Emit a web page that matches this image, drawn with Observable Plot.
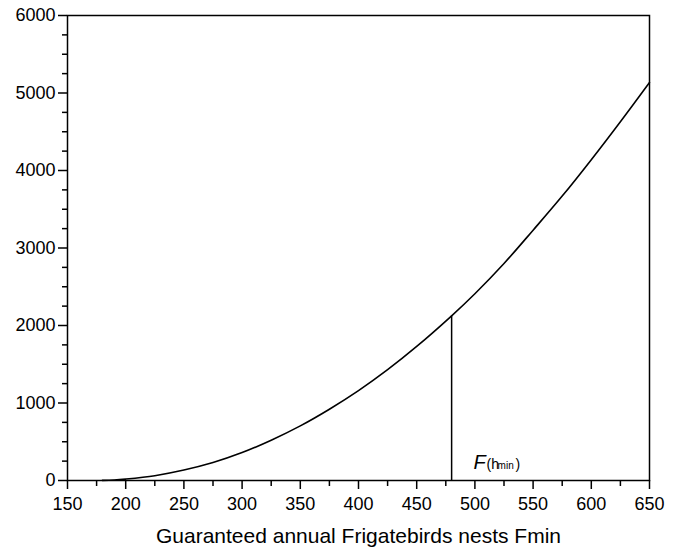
<!DOCTYPE html>
<html>
<head>
<meta charset="utf-8">
<script src="https://cdn.jsdelivr.net/npm/d3@7"></script>
<script src="https://cdn.jsdelivr.net/npm/@observablehq/plot@0.6"></script>
<style>
  html, body { margin: 0; padding: 0; background: #fff; }
</style>
</head>
<body>
<div id="chart"></div>
<script>
// Curve readings: guaranteed annual nests (x) vs. value (y)
const nests = [180, 190, 200, 225, 250, 275, 300, 325, 350, 375, 400, 425, 450, 480, 500, 525, 550, 575, 600, 625, 650];
const values = [1, 6, 18, 62, 135, 232, 360, 520, 705, 920, 1160, 1430, 1730, 2125, 2410, 2800, 3230, 3670, 4140, 4630, 5135];

// Marker F(hmin)
const hminX = 480;
const hminY = 2125;

// Axis ticks
const xMajor = [150, 200, 250, 300, 350, 400, 450, 500, 550, 600, 650];
const xMinor = [175, 225, 275, 325, 375, 425, 475, 525, 575, 625];
const yMajor = [0, 1000, 2000, 3000, 4000, 5000, 6000];
const yMinor = [250, 500, 750, 1250, 1500, 1750, 2250, 2500, 2750, 3250, 3500, 3750, 4250, 4500, 4750, 5250, 5500, 5750];

const xTitle = "Guaranteed annual Frigatebirds nests Fmin";

const points = nests.map((x, i) => ({x, y: values[i]}));
const font = "'Liberation Sans', Arial, Helvetica, sans-serif";

const chart = Plot.plot({
  width: 680,
  height: 549,
  marginLeft: 67,
  marginRight: 31,
  marginTop: 15,
  marginBottom: 69,
  x: {domain: [150, 650]},
  y: {domain: [0, 6000]},
  style: {fontFamily: font, fontSize: "18px", color: "black", background: "white"},
  marks: [
    Plot.axisY(yMinor, {tickSize: 5, text: null, label: null, strokeWidth: 1.5}),
    Plot.axisY(yMajor, {tickSize: 9, tickPadding: 3, label: null, strokeWidth: 1.5, tickFormat: d => String(d), fontSize: 18}),
    Plot.axisX(xMinor, {tickSize: 6, text: null, label: null, strokeWidth: 1.5}),
    Plot.axisX(xMajor, {tickSize: 9, tickPadding: 8, label: null, strokeWidth: 1.5, tickFormat: d => String(d), fontSize: 18}),
    Plot.frame({stroke: "black", strokeWidth: 1.5}),
    Plot.line(points, {x: "x", y: "y", stroke: "black", strokeWidth: 1.6, curve: "catmull-rom"}),
    Plot.ruleX([{x: hminX, y: hminY}], {x: "x", y1: 0, y2: "y", stroke: "black", strokeWidth: 1.5}),
    Plot.text([{x: hminX, y: 0}], {x: "x", y: "y", text: () => "F", fontSize: 20, fontStyle: "italic", textAnchor: "start", lineAnchor: "bottom", dx: 22, dy: -12}),
    Plot.text([{x: hminX, y: 0}], {x: "x", y: "y", text: () => "(h", fontSize: 14, textAnchor: "start", lineAnchor: "bottom", dx: 35, dy: -12}),
    Plot.text([{x: hminX, y: 0}], {x: "x", y: "y", text: () => "min", fontSize: 10, textAnchor: "start", lineAnchor: "bottom", dx: 46, dy: -12}),
    Plot.text([{x: hminX, y: 0}], {x: "x", y: "y", text: () => ")", fontSize: 14, textAnchor: "start", lineAnchor: "bottom", dx: 64, dy: -12}),
    Plot.text([xTitle], {frameAnchor: "bottom", text: d => d, fontSize: 21, lineAnchor: "bottom", dy: 62})
  ]
});
document.getElementById("chart").appendChild(chart);
</script>
</body>
</html>
